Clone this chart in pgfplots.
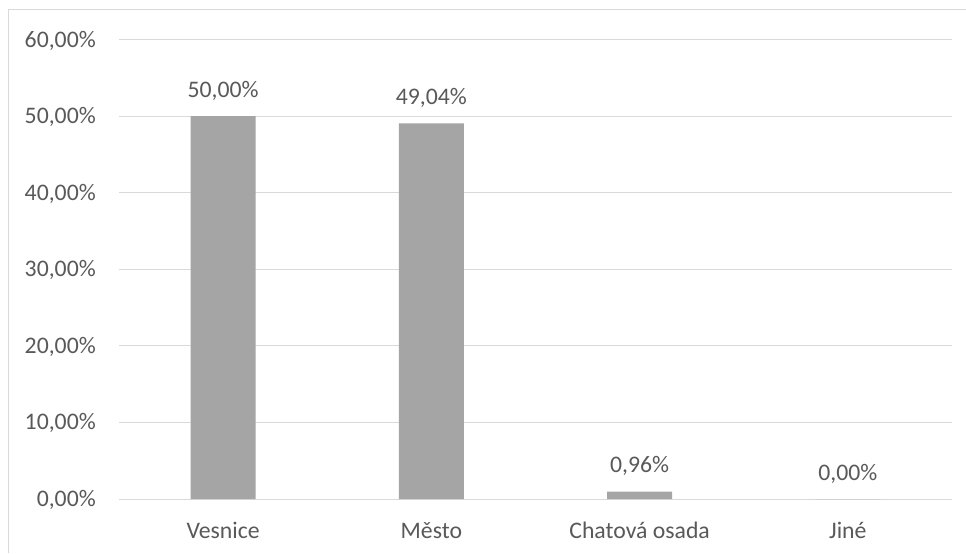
\documentclass[border=0pt]{standalone}
\usepackage{pgfplots}
\pgfplotsset{compat=1.18}
\usepackage{fontspec}
\setmainfont{Carlito}
\definecolor{txt}{HTML}{595959}
\definecolor{grd}{HTML}{D9D9D9}
\definecolor{bar}{HTML}{A5A5A5}
\begin{document}
\begin{tikzpicture}
\useasboundingbox (0,0) rectangle (724.5pt,414.75pt);
\draw[grd, line width=0.75pt] (6pt,0) -- (6pt,407.25pt) -- (724.5pt,407.25pt);
\begin{axis}[
  at={(89.25pt,40.5pt)}, anchor=south west,
  scale only axis, width=624.75pt, height=344.6pt,
  xmin=-0.5, xmax=3.5, ymin=0, ymax=60,
  ytick={0,10,...,60},
  xtick={0,1,2,3},
  xticklabels={Vesnice,Město,Chatová osada,Jiné},
  major tick length=0pt,
  axis line style={draw=none},
  ymajorgrids, grid style={grd, line width=0.75pt},
  font=\fontsize{17.8}{21}\selectfont,
  /pgf/number format/assume math mode=true,
  tick label style={text=txt, inner sep=0pt},
  yticklabel={\pgfmathprintnumber[fixed,fixed zerofill,precision=2,use comma]{\tick}\%},
  yticklabel style={anchor=base east, xshift=-17.25pt, yshift=-5.6pt},
  xticklabel style={anchor=base, yshift=-29.25pt},
  clip=false,
]
\draw[grd, line width=0.75pt] (axis cs:-0.5,0) -- (axis cs:3.5,0);
\addplot[ybar, bar width=48.75pt, fill=bar, draw=none,
  nodes near coords={\pgfmathprintnumber[fixed,fixed zerofill,precision=2,use comma]{\pgfplotspointmeta}\%},
  every node near coord/.append style={anchor=base, inner sep=0pt, yshift=14pt, text=txt, font=\fontsize{17.8}{21}\selectfont, /pgf/number format/assume math mode=true},
] coordinates {(0,50.00) (1,49.04) (2,0.96) (3,0.00)};
\end{axis}
\end{tikzpicture}
\end{document}
